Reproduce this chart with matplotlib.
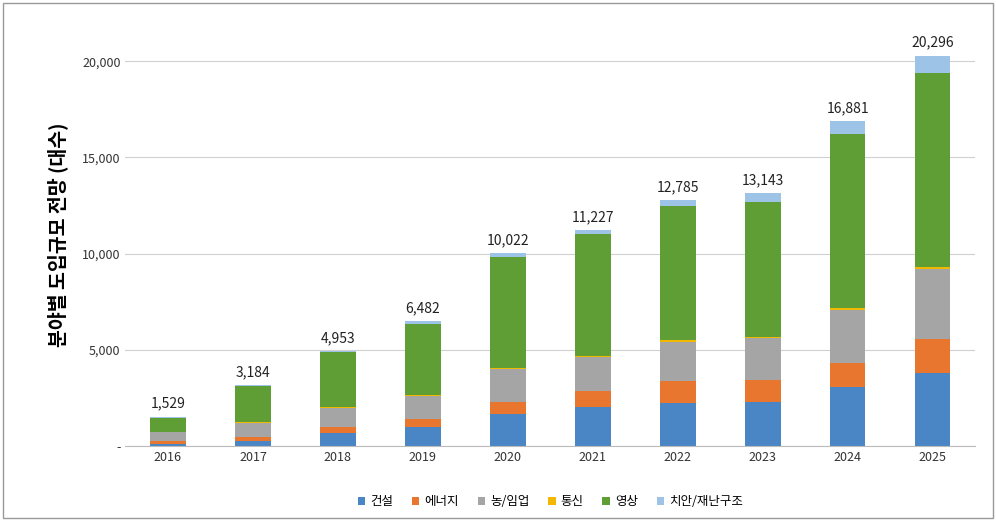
import matplotlib
matplotlib.use("Agg")
import matplotlib.pyplot as plt
import numpy as np

years = ["2016","2017","2018","2019","2020","2021","2022","2023","2024","2025"]
totals = [1529,3184,4953,6482,10022,11227,12785,13143,16881,20296]
series_names = ["건설","에너지","농/임업","통신","영상","치안/재난구조"]
construction = [100,250,680,1000,1650,2000,2250,2300,3050,3800]
energy = [150,200,320,400,650,850,1150,1150,1250,1750]
agri = [450,750,970,1200,1700,1750,2000,2150,2750,3650]
telecom = [20,30,40,50,50,100,100,50,100,100]
video = [750,1900,2880,3700,5750,6300,6950,7050,9050,10100]
safety = [t-(a+b+c+d+e) for t,a,b,c,d,e in zip(totals,construction,energy,agri,telecom,video)]
colors = ["#4A86C5","#E8762E","#A5A5A5","#F2B800","#5E9E35","#9DC3E6"]

plt.rcParams["font.family"] = ["Noto Sans CJK KR","Noto Sans CJK JP","Noto Sans CJK SC","DejaVu Sans"]
fig = plt.figure(figsize=(9.96,5.29), dpi=100)
ax = fig.add_axes([0.126,0.157,0.853,0.80])
x = np.arange(len(years))
bottom = np.zeros(len(years))
for name, vals, c in zip(series_names,[construction,energy,agri,telecom,video,safety],colors):
    ax.bar(x, vals, 0.42, bottom=bottom, color=c, label=name)
    bottom += np.array(vals)
for xi, t in zip(x, totals):
    ax.text(xi, t+300, f"{t:,}", ha="center", va="bottom", fontsize=10, color="#222")
ax.set_xlim(-0.5, len(years)-0.5)
ax.set_ylim(0, 22000)
ax.set_yticks([0,5000,10000,15000,20000])
ax.set_yticklabels(["-","5,000","10,000","15,000","20,000"])
ax.set_xticks(x)
ax.set_xticklabels(years)
ax.tick_params(labelsize=9, length=0, colors="#333")
ax.grid(axis="y", color="#D0D0D0", linewidth=0.8)
ax.set_axisbelow(True)
for s in ["top","right","left"]:
    ax.spines[s].set_visible(False)
ax.spines["bottom"].set_color("#BBBBBB")
ax.set_ylabel("분야별 도입규모 전망 (대수)", fontsize=14, fontweight="bold", labelpad=10)
ax.legend(loc="upper center", bbox_to_anchor=(0.5,-0.09), ncol=6, frameon=False,
          fontsize=9, handlelength=0.6, handleheight=0.6, columnspacing=1.5, handletextpad=0.4)
fig.patches.append(plt.Rectangle((0.003,0.02),0.994,0.975, transform=fig.transFigure,
                                 fill=False, edgecolor="#999999", linewidth=1))
fig.savefig("out.png", dpi=100)
